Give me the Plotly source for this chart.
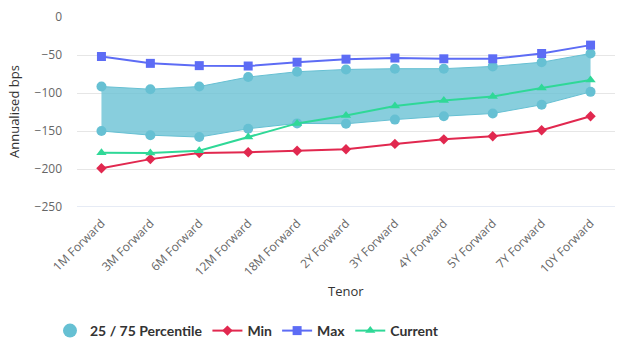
import plotly.graph_objects as go

tenors = ["1M Forward", "3M Forward", "6M Forward", "12M Forward", "18M Forward",
          "2Y Forward", "3Y Forward", "4Y Forward", "5Y Forward", "7Y Forward", "10Y Forward"]
p75 = [-91.5, -95, -91.5, -79, -72, -69, -68, -68, -65, -59.5, -48]
p25 = [-150, -155.5, -158, -147, -140, -140.5, -135, -130.5, -127, -115.5, -98.5]
vmin = [-199, -187, -179, -178, -176, -174, -167, -161, -157, -149, -130.5]
vmax = [-52, -61, -64, -64.5, -59.5, -55.5, -54, -55, -55, -48, -37]
current = [-178.5, -179, -176, -158, -140, -129.5, -117, -110, -104.5, -93.5, -83]

band_col = "#66C0D3"
fig = go.Figure()
fig.add_trace(go.Scatter(x=tenors, y=p25, mode="lines+markers", showlegend=False,
                         line=dict(color=band_col, width=1),
                         marker=dict(color=band_col, size=10, symbol="circle")))
fig.add_trace(go.Scatter(x=tenors, y=p75, mode="lines+markers", showlegend=False,
                         fill="tonexty", fillcolor="rgba(102,192,211,0.78)",
                         line=dict(color=band_col, width=1),
                         marker=dict(color=band_col, size=10, symbol="circle")))
fig.add_trace(go.Scatter(x=[None], y=[None], mode="markers", name="25 / 75 Percentile",
                         marker=dict(color=band_col, size=14, symbol="circle")))
fig.add_trace(go.Scatter(x=tenors, y=vmin, mode="lines+markers", name="Min",
                         line=dict(color="#E1284F", width=2),
                         marker=dict(color="#E1284F", size=8, symbol="diamond")))
fig.add_trace(go.Scatter(x=tenors, y=vmax, mode="lines+markers", name="Max",
                         line=dict(color="#5D6CF5", width=2),
                         marker=dict(color="#5D6CF5", size=9, symbol="square")))
fig.add_trace(go.Scatter(x=tenors, y=current, mode="lines+markers", name="Current",
                         line=dict(color="#2FD897", width=2),
                         marker=dict(color="#2FD897", size=9, symbol="triangle-up")))

fig.update_layout(
    width=624, height=351,
    margin=dict(l=77, r=9, t=17, b=144),
    paper_bgcolor="white", plot_bgcolor="white",
    font=dict(family="Open Sans, sans-serif", color="#666666", size=11),
    legend=dict(orientation="h", xref="container", x=50 / 624, xanchor="left",
                yref="container", y=1 - 331 / 351, yanchor="middle",
                font=dict(family="Lato, sans-serif", size=14, color="#333333", weight="bold"),
                itemsizing="trace", traceorder="normal", itemwidth=30, tracegroupgap=0),
    xaxis=dict(type="category", range=[-0.5, 10.5], tickangle=-45, showgrid=False,
               showline=False, ticks="", automargin=False, ticklabelstandoff=6,
               tickfont=dict(size=12, color="#666666")),
    yaxis=dict(range=[-250, 0], tickvals=[0, -50, -100, -150, -200, -250],
               ticktext=["0", "−50", "−100", "−150", "−200", "−250"],
               gridcolor="#E6E6E6", zeroline=False, ticks="", ticklabelstandoff=14,
               automargin=False, tickfont=dict(size=12, color="#666666")),
    annotations=[
        dict(text="Tenor", xref="paper", yref="paper", x=0.5, y=(207 - 291) / 190,
             xanchor="center", yanchor="middle", showarrow=False,
             font=dict(size=13, color="#333333")),
        dict(text="Annualised bps", xref="paper", yref="paper", x=(14 - 77) / 538, y=0.5,
             xanchor="center", yanchor="middle", showarrow=False, textangle=-90,
             font=dict(size=13, color="#333333")),
    ],
)
fig.add_shape(type="line", xref="paper", yref="y", x0=0, x1=1, y0=-250, y1=-250,
              line=dict(color="#CCD6EB", width=1))
fig.write_html("out.html")
